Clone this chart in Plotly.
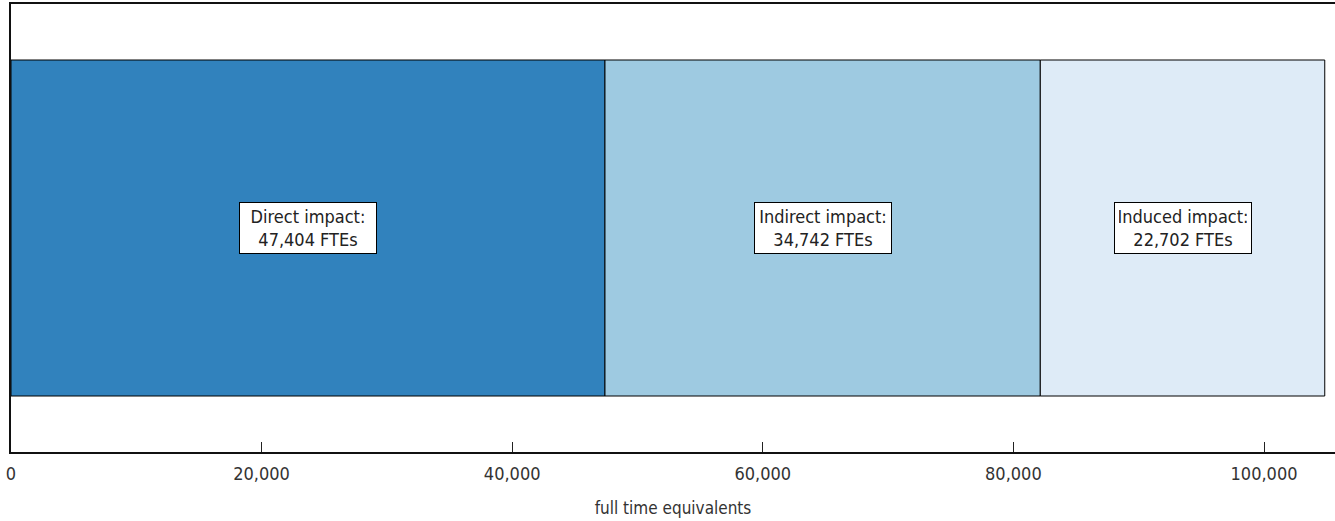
import plotly.graph_objects as go

categories = ["Direct impact", "Indirect impact", "Induced impact"]
values = [47404, 34742, 22702]
colors = ["#3182bd", "#9ecae1", "#deebf7"]
tick_vals = [0, 20000, 40000, 60000, 80000, 100000]
tick_text = ["0", "20,000", "40,000", "60,000", "80,000", "100,000"]
x_title = "full time equivalents"

FONT = "DejaVu Sans Condensed, Liberation Sans Narrow, sans-serif"

fig = go.Figure()
base = 0
for name, v, c in zip(categories, values, colors):
    fig.add_trace(go.Bar(
        x=[v], y=["all"], base=[base], orientation="h", name=name,
        marker=dict(color=c, line=dict(color="#000000", width=1)),
        width=0.75, showlegend=False, hoverinfo="skip",
    ))
    fig.add_annotation(
        x=base + v / 2, y="all", xref="x", yref="y",
        text=f"{name}:<br>{v:,} FTEs", showarrow=False,
        font=dict(family=FONT, size=18, color="#222222"),
        bgcolor="#ffffff", bordercolor="#000000", borderwidth=1, borderpad=4,
        width=128, height=42, align="center",
    )
    base += v

fig.update_layout(
    width=1335, height=521,
    margin=dict(l=11, r=0, t=4, b=69),
    plot_bgcolor="#ffffff", paper_bgcolor="#ffffff",
    barmode="overlay",
    xaxis=dict(
        range=[0, 105666], tickvals=tick_vals, ticktext=tick_text,
        ticks="inside", ticklen=10, tickcolor="#222222", tickwidth=1,
        showline=True, linecolor="#111111", linewidth=1.5, mirror=True,
        showgrid=False, zeroline=False, automargin=False,
        ticklabelstandoff=5,
        tickfont=dict(family=FONT, size=18, color="#333333"),
        title=dict(text=x_title, font=dict(family=FONT, size=17, color="#333333"), standoff=19),
    ),
    yaxis=dict(
        showticklabels=False, showgrid=False, zeroline=False, automargin=False,
        showline=True, linecolor="#111111", linewidth=1.5, mirror=False,
        range=[-0.5, 0.5],
    ),
)

fig.write_html("out.html", config={"displayModeBar": False},
               post_script="document.body.style.margin='0px';")
